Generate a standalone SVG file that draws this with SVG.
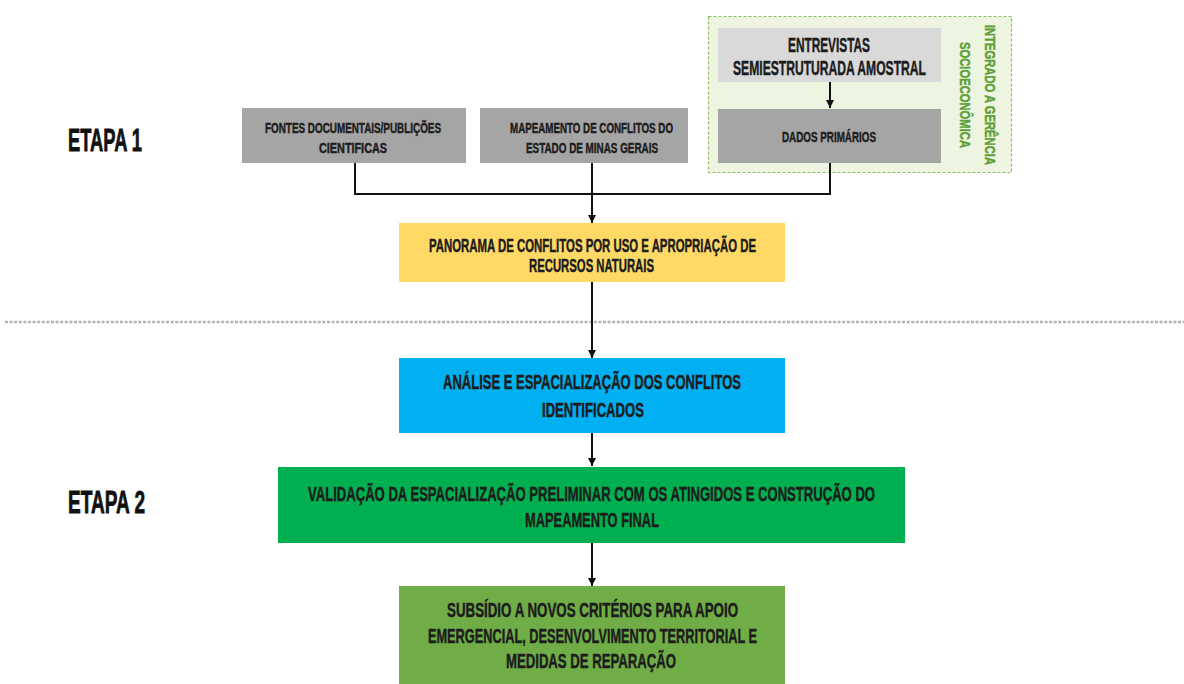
<svg xmlns="http://www.w3.org/2000/svg" width="1184" height="684" viewBox="0 0 1184 684">
  <defs>
    <marker id="arrow" viewBox="0 0 8 8" refX="8" refY="4" markerWidth="8" markerHeight="8" markerUnits="userSpaceOnUse" orient="auto">
      <path d="M0,0 L8,4 L0,8 z" fill="#111"/>
    </marker>
    <style>
      text { font-family: "Liberation Sans Narrow", "Liberation Sans", Arial, sans-serif; font-weight: bold; fill: #1c1c1c; stroke: #1c1c1c; stroke-width: 0.45; text-anchor: middle; }
      .stage { font-size: 32px; text-anchor: start; fill: #111; stroke: #111; stroke-width: 0.8; }
      .s14 { font-size: 14.5px; }
      .s15 { font-size: 15px; }
      .s18 { font-size: 18px; }
      .s19 { font-size: 19.5px; }
      .s20 { font-size: 20.5px; }
      .side { font-size: 14.5px; fill: #5e9f3a; stroke: #5e9f3a; }
      .wire { fill: none; stroke: #111; stroke-width: 2; }
    </style>
  </defs>

  <rect width="1184" height="684" fill="#ffffff"/>

  <!-- stage labels -->
  <text class="stage" x="68" y="151" textLength="74" lengthAdjust="spacingAndGlyphs">ETAPA 1</text>
  <text class="stage" x="68" y="513" textLength="77" lengthAdjust="spacingAndGlyphs">ETAPA 2</text>

  <!-- separator between stages -->
  <line x1="5" y1="322" x2="1184" y2="322" stroke="#b3b3b3" stroke-width="2.5" stroke-dasharray="3 1.6"/>

  <!-- field-research block -->
  <g id="socioeconomica">
    <rect x="708.5" y="16.5" width="303" height="156" fill="#edf4e0" stroke="#8cc063" stroke-width="1.2" stroke-dasharray="3 2"/>
    <g transform="translate(990,95) rotate(90)">
      <text class="side" x="0" y="5" textLength="140" lengthAdjust="spacingAndGlyphs">INTEGRADO A GERÊNCIA</text>
    </g>
    <g transform="translate(965,95) rotate(90)">
      <text class="side" x="0" y="5" textLength="106" lengthAdjust="spacingAndGlyphs">SOCIOECONÔMICA</text>
    </g>
  </g>

  <g id="entrevistas">
    <rect x="718" y="28" width="223" height="54" fill="#d9d9d9"/>
    <text class="s19" x="829" y="52" textLength="82" lengthAdjust="spacingAndGlyphs">ENTREVISTAS</text>
    <text class="s19" x="829.5" y="75" textLength="193" lengthAdjust="spacingAndGlyphs">SEMIESTRUTURADA AMOSTRAL</text>
  </g>

  <g id="dados-primarios">
    <rect x="718" y="109" width="223" height="54" fill="#a5a5a5"/>
    <text class="s15" x="829" y="142" textLength="94" lengthAdjust="spacingAndGlyphs">DADOS PRIMÁRIOS</text>
  </g>

  <g id="fontes-documentais">
    <rect x="242" y="108" width="224" height="55" fill="#a5a5a5"/>
    <text class="s14" x="353" y="133" textLength="176" lengthAdjust="spacingAndGlyphs">FONTES DOCUMENTAIS/PUBLIÇÕES</text>
    <text class="s14" x="353" y="153" textLength="68" lengthAdjust="spacingAndGlyphs">CIENTIFICAS</text>
  </g>

  <g id="mapeamento-conflitos">
    <rect x="480" y="108" width="208" height="55" fill="#a5a5a5"/>
    <text class="s14" x="591.5" y="133" textLength="163" lengthAdjust="spacingAndGlyphs">MAPEAMENTO DE CONFLITOS DO</text>
    <text class="s14" x="592" y="153" textLength="132" lengthAdjust="spacingAndGlyphs">ESTADO DE MINAS GERAIS</text>
  </g>

  <g id="panorama">
    <rect x="399" y="223" width="386" height="59" fill="#ffd966"/>
    <text class="s18" x="592.5" y="252" textLength="327" lengthAdjust="spacingAndGlyphs">PANORAMA DE CONFLITOS POR USO E APROPRIAÇÃO DE</text>
    <text class="s18" x="591.5" y="272" textLength="125" lengthAdjust="spacingAndGlyphs">RECURSOS NATURAIS</text>
  </g>

  <g id="analise">
    <rect x="399" y="358" width="386" height="75" fill="#00b0f0"/>
    <text class="s19" x="592" y="389" textLength="298" lengthAdjust="spacingAndGlyphs">ANÁLISE E ESPACIALIZAÇÃO DOS CONFLITOS</text>
    <text class="s19" x="593" y="417" textLength="102" lengthAdjust="spacingAndGlyphs">IDENTIFICADOS</text>
  </g>

  <g id="validacao">
    <rect x="278" y="467" width="627" height="76" fill="#00b050"/>
    <!-- long line drawn in a horizontally condensed frame -->
    <text class="s20" transform="translate(591.5,501) scale(0.7,1)" x="0" y="0" textLength="810" lengthAdjust="spacingAndGlyphs">VALIDAÇÃO DA ESPACIALIZAÇÃO PRELIMINAR COM OS ATINGIDOS E CONSTRUÇÃO DO</text>
    <text class="s20" x="592" y="527" textLength="134" lengthAdjust="spacingAndGlyphs">MAPEAMENTO FINAL</text>
  </g>

  <g id="subsidio">
    <rect x="399" y="586" width="386" height="100" fill="#70ad47"/>
    <text class="s19" x="592.5" y="617" textLength="291" lengthAdjust="spacingAndGlyphs">SUBSÍDIO A NOVOS CRITÉRIOS PARA APOIO</text>
    <text class="s19" x="592.5" y="643" textLength="329" lengthAdjust="spacingAndGlyphs">EMERGENCIAL, DESENVOLVIMENTO TERRITORIAL E</text>
    <text class="s19" x="591" y="668" textLength="170" lengthAdjust="spacingAndGlyphs">MEDIDAS DE REPARAÇÃO</text>
  </g>

  <!-- connectors -->
  <g id="connectors">
    <path class="wire" d="M355,163 V194 H830 V163"/>
    <path class="wire" d="M592,163 V223" marker-end="url(#arrow)"/>
    <path class="wire" d="M830,82 V108" marker-end="url(#arrow)"/>
    <path class="wire" d="M592,282 V358" marker-end="url(#arrow)"/>
    <path class="wire" d="M592,433 V466" marker-end="url(#arrow)"/>
    <path class="wire" d="M592,543 V586" marker-end="url(#arrow)"/>
  </g>
</svg>
